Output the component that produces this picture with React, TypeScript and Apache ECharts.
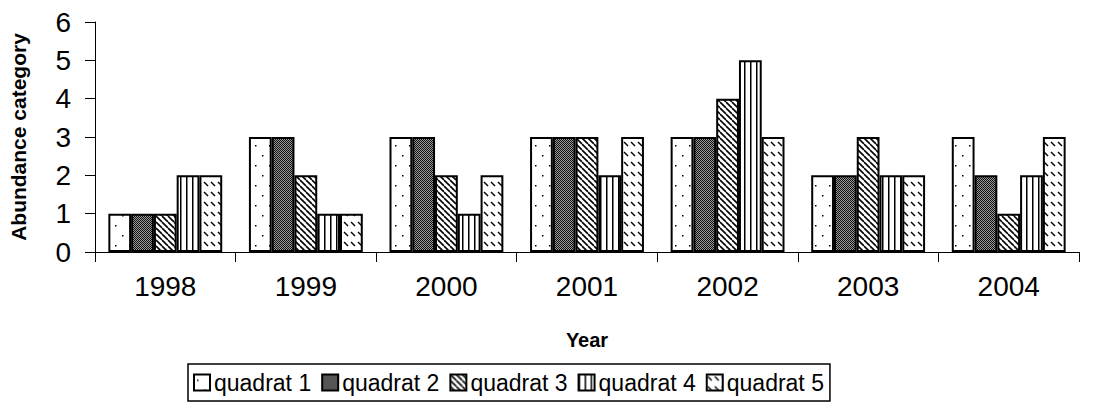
import React, { useEffect, useRef } from "react";
import * as echarts from "echarts";

const years = ["1998", "1999", "2000", "2001", "2002", "2003", "2004"];
const seriesNames = ["quadrat 1", "quadrat 2", "quadrat 3", "quadrat 4", "quadrat 5"];
const quadrat1 = [1, 3, 3, 3, 3, 2, 3];
const quadrat2 = [1, 3, 3, 3, 3, 2, 2];
const quadrat3 = [1, 2, 2, 3, 4, 3, 1];
const quadrat4 = [2, 1, 1, 2, 5, 2, 2];
const quadrat5 = [2, 1, 2, 3, 3, 2, 3];
const seriesValues = [quadrat1, quadrat2, quadrat3, quadrat4, quadrat5];
const yTicks = [0, 1, 2, 3, 4, 5, 6];

const FONT = "'Liberation Sans', Arial, sans-serif";

function makeTile(w: number, h: number, draw: (ctx: CanvasRenderingContext2D) => void) {
  const c = document.createElement("canvas");
  c.width = w;
  c.height = h;
  const ctx = c.getContext("2d")!;
  ctx.fillStyle = "#fff";
  ctx.fillRect(0, 0, w, h);
  draw(ctx);
  return { image: c, repeat: "repeat", imageWidth: w, imageHeight: h } as any;
}

function patterns() {
  const p1 = makeTile(14, 20, (ctx) => {
    ctx.fillStyle = "#000";
    ctx.fillRect(3, 5, 1.5, 1.5);
    ctx.fillRect(10, 15, 1.5, 1.5);
  });
  const p2 = makeTile(2, 2, (ctx) => {
    ctx.fillStyle = "#111";
    ctx.fillRect(0, 0, 1, 1);
    ctx.fillRect(1, 1, 1, 1);
    ctx.fillStyle = "#999";
    ctx.fillRect(1, 0, 1, 1);
    ctx.fillRect(0, 1, 1, 1);
  });
  const p3 = makeTile(6, 6, (ctx) => {
    ctx.strokeStyle = "#000";
    ctx.lineWidth = 1.6;
    for (const off of [-6, 0, 6]) {
      ctx.beginPath();
      ctx.moveTo(off, 0);
      ctx.lineTo(off + 6, 6);
      ctx.stroke();
    }
  });
  const p4 = makeTile(6, 4, (ctx) => {
    ctx.fillStyle = "#000";
    ctx.fillRect(0, 0, 1.5, 4);
  });
  const p5 = makeTile(7, 10, (ctx) => {
    ctx.strokeStyle = "#000";
    ctx.lineWidth = 1.4;
    ctx.beginPath();
    ctx.moveTo(1, 2);
    ctx.lineTo(5, 6);
    ctx.stroke();
  });
  return [p1, p2, p3, p4, p5];
}

export default function App() {
  const ref = useRef<HTMLDivElement>(null);
  useEffect(() => {
    if (!ref.current) return;
    const chart = echarts.init(ref.current, undefined, { renderer: "svg" });
    const pats = patterns();
    chart.setOption({
      animation: false,
      backgroundColor: "#fff",
      grid: { left: 85, right: 21, top: 22, bottom: 157, containLabel: false },
      legend: {
        left: 188,
        top: 364,
        itemWidth: 16,
        itemHeight: 16,
        itemGap: 10,
        padding: [7, 6, 7, 5],
        borderColor: "#000",
        borderWidth: 1.5,
        icon: "rect",
        textStyle: { fontFamily: FONT, fontSize: 23, color: "#000", padding: [0, 0, 0, -1] },
        data: seriesNames,
      },
      xAxis: {
        type: "category",
        data: years,
        name: "Year",
        nameLocation: "middle",
        nameGap: 78,
        nameTextStyle: { fontFamily: FONT, fontSize: 20, fontWeight: "bold", color: "#000" },
        axisLine: { show: true, lineStyle: { color: "#000", width: 1 } },
        axisTick: { show: true, inside: false, length: 10, lineStyle: { color: "#000" } },
        axisLabel: { fontFamily: FONT, fontSize: 28, color: "#000", margin: 20 },
        splitLine: { show: false },
      },
      yAxis: {
        type: "value",
        min: yTicks[0],
        max: yTicks[yTicks.length - 1],
        interval: 1,
        name: "Abundance category",
        nameLocation: "middle",
        nameGap: 66,
        nameRotate: 90,
        nameTextStyle: { fontFamily: FONT, fontSize: 21, fontWeight: "bold", color: "#000" },
        axisLine: { show: true, lineStyle: { color: "#000", width: 1 } },
        axisTick: { show: true, inside: false, length: 10, lineStyle: { color: "#000" } },
        axisLabel: { fontFamily: FONT, fontSize: 28, color: "#000", margin: 24 },
        splitLine: { show: false },
      },
      series: seriesNames.map((name, i) => ({
        name,
        type: "bar",
        data: seriesValues[i],
        barGap: "0%",
        barCategoryGap: "19%",
        itemStyle: { color: pats[i], borderColor: "#000", borderWidth: 2 },
      })),
    });
    return () => chart.dispose();
  }, []);
  return <div ref={ref} style={{ width: 1100, height: 409, position: "absolute", left: 0, top: 0 }} />;
}
